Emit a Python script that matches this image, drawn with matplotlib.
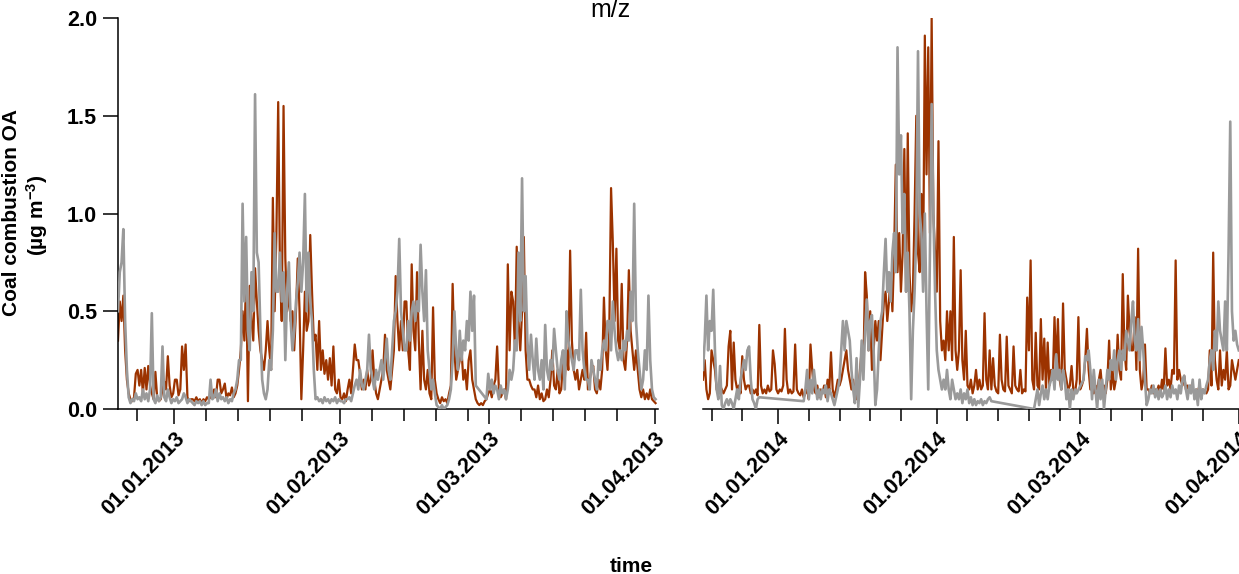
import numpy as np
import matplotlib
matplotlib.use("Agg")
import matplotlib.pyplot as plt
import matplotlib.dates as mdates

plt.rcParams['font.family'] = 'Liberation Sans'
plt.rcParams['font.weight'] = 'bold'
plt.rcParams['mathtext.fontset'] = 'custom'
plt.rcParams['mathtext.rm'] = 'Liberation Sans:bold'
plt.rcParams['mathtext.it'] = 'Liberation Sans:bold'
plt.rcParams['mathtext.bf'] = 'Liberation Sans:bold'

# 8-hourly series, winter 2012/13 and winter 2013/14
start_2013 = np.datetime64('2012-12-21T12:00')
start_2014 = np.datetime64('2013-12-17T08:00')
step = np.timedelta64(8, 'h')

brown_2013 = [
    0.35, 0.55, 0.45, 0.58, 0.30, 0.15, 0.08, 0.05, 0.04, 0.06, 0.18, 0.20,
    0.12, 0.20, 0.08, 0.21, 0.10, 0.22, 0.12, 0.08, 0.05, 0.19, 0.06, 0.04,
    0.05, 0.10, 0.14, 0.10, 0.27, 0.12, 0.06, 0.08, 0.15, 0.15, 0.07, 0.10,
    0.32, 0.20, 0.33, 0.06, 0.04, 0.05, 0.05, 0.04, 0.06, 0.04, 0.05, 0.03,
    0.05, 0.04, 0.06, 0.05, 0.06, 0.07, 0.10, 0.06, 0.15, 0.15, 0.08, 0.10,
    0.13, 0.05, 0.08, 0.07, 0.11, 0.06, 0.08, 0.12, 0.20, 0.30, 0.50, 0.35,
    0.68, 0.04, 0.63, 0.45, 0.35, 0.72, 0.55, 0.40, 0.30, 0.25, 0.20, 0.30,
    0.45, 0.30, 0.20, 1.08, 0.50, 0.90, 1.57, 0.70, 0.45, 1.55, 0.77, 0.50,
    0.60, 0.45, 0.50, 0.30, 0.50, 0.77, 0.50, 0.05, 0.30, 0.60, 0.40, 0.45,
    0.89, 0.60, 0.35, 0.38, 0.20, 0.45, 0.20, 0.30, 0.18, 0.25, 0.15, 0.26,
    0.12, 0.32, 0.10, 0.08, 0.15, 0.06, 0.05, 0.08, 0.04, 0.10, 0.15, 0.08,
    0.20, 0.33, 0.25, 0.25, 0.18, 0.10, 0.15, 0.10, 0.20, 0.12, 0.15, 0.30,
    0.15, 0.08, 0.05, 0.10, 0.15, 0.20, 0.38, 0.20, 0.15, 0.10, 0.20, 0.30,
    0.68, 0.45, 0.30, 0.45, 0.30, 0.55, 0.55, 0.30, 0.20, 0.74, 0.40, 0.30,
    0.70, 0.35, 0.10, 0.40, 0.15, 0.10, 0.20, 0.08, 0.05, 0.52, 0.15, 0.08,
    0.05, 0.03, 0.06, 0.04, 0.05, 0.03, 0.08, 0.12, 0.64, 0.30, 0.15, 0.20,
    0.25, 0.30, 0.15, 0.20, 0.10, 0.25, 0.30, 0.15, 0.10, 0.05, 0.03, 0.02,
    0.03, 0.02, 0.04, 0.05, 0.08, 0.10, 0.06, 0.12, 0.15, 0.32, 0.10, 0.06,
    0.08, 0.10, 0.05, 0.74, 0.30, 0.60, 0.55, 0.30, 0.83, 0.45, 0.30, 0.50,
    0.88, 0.30, 0.15, 0.15, 0.12, 0.10, 0.10, 0.06, 0.12, 0.05, 0.08, 0.04,
    0.05, 0.10, 0.06, 0.15, 0.30, 0.12, 0.10, 0.20, 0.08, 0.10, 0.25, 0.15,
    0.30, 0.20, 0.81, 0.35, 0.20, 0.15, 0.20, 0.10, 0.15, 0.20, 0.15, 0.39,
    0.10, 0.15, 0.20, 0.22, 0.10, 0.08, 0.15, 0.10, 0.20, 0.57, 0.30, 0.20,
    0.40, 1.13, 0.85, 0.45, 0.82, 0.35, 0.30, 0.64, 0.25, 0.20, 0.35, 0.71,
    0.40, 0.30, 0.20, 0.30, 0.20, 0.10, 0.06, 0.10, 0.05, 0.08, 0.05, 0.10,
    0.05, 0.04, 0.03,
]

gray_2013 = [
    0.50, 0.70, 0.75, 0.92, 0.45, 0.20, 0.06, 0.03, 0.05, 0.04, 0.08, 0.05,
    0.06, 0.04, 0.10, 0.05, 0.08, 0.04, 0.10, 0.49, 0.05, 0.03, 0.07, 0.04,
    0.06, 0.32, 0.06, 0.04, 0.10, 0.06, 0.03, 0.05, 0.04, 0.06, 0.03, 0.04,
    0.05, 0.08, 0.06, 0.03, 0.05, 0.04, 0.03, 0.02, 0.04, 0.03, 0.04, 0.02,
    0.04, 0.02, 0.03, 0.03, 0.15, 0.05, 0.06, 0.10, 0.04, 0.08, 0.05, 0.06,
    0.04, 0.06, 0.03, 0.05, 0.04, 0.08, 0.10, 0.15, 0.25, 0.25, 1.05, 0.55,
    0.88, 0.40, 0.30, 0.70, 0.50, 1.61, 0.80, 0.75, 0.40, 0.15, 0.08, 0.05,
    0.10, 0.25, 0.20, 0.40, 0.90, 0.60, 0.60, 0.80, 0.55, 0.70, 0.25, 0.60,
    0.75, 0.45, 0.30, 0.40, 0.55, 0.65, 0.80, 0.60, 0.75, 1.10, 0.50, 0.80,
    0.55, 0.45, 0.20, 0.05, 0.06, 0.04, 0.05, 0.03, 0.06, 0.04, 0.05, 0.03,
    0.05, 0.04, 0.06, 0.03, 0.05, 0.04, 0.04, 0.03, 0.05, 0.05, 0.06, 0.04,
    0.08, 0.12, 0.15, 0.10, 0.20, 0.12, 0.10, 0.15, 0.20, 0.38, 0.20, 0.15,
    0.10, 0.20, 0.15, 0.20, 0.25, 0.15, 0.25, 0.36, 0.20, 0.15, 0.30, 0.45,
    0.50, 0.60, 0.87, 0.50, 0.40, 0.30, 0.30, 0.45, 0.35, 0.50, 0.55, 0.45,
    0.55, 0.50, 0.84, 0.60, 0.45, 0.71, 0.30, 0.20, 0.10, 0.15, 0.08, 0.02,
    0.01, 0.00, 0.02, 0.00, 0.01, 0.02, 0.05, 0.10, 0.25, 0.50, 0.30, 0.20,
    0.40, 0.25, 0.35, 0.30, 0.45, 0.35, 0.60, 0.40, 0.58, 0.12, None, None,
    None, None, None, 0.05, 0.18, 0.10, 0.15, 0.08, 0.12, 0.10, 0.05, 0.12,
    0.08, 0.10, 0.05, 0.10, 0.20, 0.15, 0.20, 0.35, 0.30, 0.80, 0.45, 1.18,
    0.50, 0.68, 0.35, 0.20, 0.38, 0.25, 0.15, 0.36, 0.20, 0.15, 0.25, 0.10,
    0.43, 0.20, 0.15, 0.25, 0.20, 0.41, 0.30, 0.20, 0.15, 0.25, 0.30, 0.10,
    0.50, 0.35, 0.30, 0.25, 0.20, 0.30, 0.30, 0.25, 0.61, 0.30, 0.20, 0.15,
    0.15, 0.10, 0.25, 0.20, 0.15, 0.10, 0.25, 0.20, 0.30, 0.35, 0.30, 0.45,
    0.45, 0.30, 0.55, 0.40, 0.30, 0.25, 0.30, 0.25, 0.35, 0.30, 0.40, 0.35,
    0.60, 0.45, 1.05, 0.45, 0.30, 0.20, 0.10, 0.15, 0.30, 0.20, 0.58, 0.25,
    0.10, 0.06, 0.05,
]

brown_2014 = [
    0.15, 0.25, 0.10, 0.05, 0.08, 0.30, 0.25, 0.20, 0.10, 0.08, 0.12, 0.10,
    0.08, 0.10, 0.12, 0.32, 0.40, 0.10, 0.34, 0.15, 0.10, 0.12, 0.08, 0.27,
    0.15, 0.10, 0.12, 0.12, 0.08, 0.10, 0.08, 0.10, 0.07, 0.43, 0.12, 0.08,
    0.10, 0.08, 0.12, 0.09, 0.10, 0.30, 0.23, 0.10, 0.08, 0.10, 0.09, 0.12,
    0.41, 0.15, 0.08, 0.10, 0.08, 0.09, 0.33, 0.10, 0.08, 0.07, 0.10, 0.06,
    0.08, 0.10, 0.05, 0.33, 0.20, 0.10, 0.08, 0.12, 0.06, 0.10, 0.08, 0.12,
    0.06, 0.15, 0.10, 0.29, 0.10, 0.06, 0.10, 0.15, 0.12, 0.15, 0.20, 0.25,
    0.30, 0.20, 0.15, 0.10, 0.15, 0.08, 0.05, 0.10, 0.20, 0.30, 0.20, 0.70,
    0.58, 0.30, 0.50, 0.20, 0.30, 0.45, 0.35, 0.45, 0.25, 0.40, 0.55, 0.60,
    0.45, 0.55, 0.69, 0.50, 0.80, 1.25, 0.70, 0.90, 0.60, 0.80, 1.33, 0.60,
    1.41, 0.70, 0.50, 0.60, 1.00, 1.50, 0.80, 0.70, 1.10, 0.70, 1.91, 1.20,
    1.85, 0.90, 2.00, 1.00, 0.80, 0.60, 1.37, 0.45, 0.30, 0.35, 0.25, 0.50,
    0.30, 0.50, 0.25, 0.88, 0.30, 0.20, 0.30, 0.71, 0.25, 0.15, 0.40, 0.12,
    0.10, 0.15, 0.08, 0.12, 0.20, 0.10, 0.15, 0.10, 0.12, 0.49, 0.15, 0.10,
    0.30, 0.10, 0.26, 0.12, 0.09, 0.08, 0.38, 0.15, 0.10, 0.09, 0.37, 0.12,
    0.10, 0.08, 0.32, 0.12, 0.10, 0.09, 0.20, 0.08, 0.10, 0.09, 0.57, 0.30,
    0.76, 0.15, 0.10, 0.39, 0.12, 0.10, 0.46, 0.15, 0.36, 0.10, 0.34, 0.12,
    0.20, 0.15, 0.47, 0.20, 0.46, 0.15, 0.10, 0.54, 0.20, 0.15, 0.10, 0.12,
    0.22, 0.10, 0.08, 0.15, 0.47, 0.10, 0.12, 0.15, 0.25, 0.41, 0.20, 0.10,
    0.15, 0.08, 0.12, 0.10, 0.15, 0.20, 0.10, 0.12, 0.08, 0.15, 0.35, 0.10,
    0.20, 0.10, 0.15, 0.38, 0.20, 0.15, 0.69, 0.30, 0.20, 0.58, 0.40, 0.30,
    0.30, 0.47, 0.20, 0.82, 0.20, 0.10, 0.15, 0.33, 0.10, 0.10, 0.08, 0.12,
    0.08, 0.10, 0.09, 0.12, 0.08, 0.15, 0.10, 0.31, 0.12, 0.15, 0.10, 0.20,
    0.18, 0.76, 0.15, 0.20, 0.15, 0.12, 0.17, 0.10, 0.12, 0.09, 0.12, 0.10,
    0.08, 0.10, 0.09, 0.12, 0.08, 0.10, 0.09, 0.08, 0.10, 0.30, 0.12, 0.80,
    0.25, 0.15, 0.10, 0.30, 0.12, 0.20, 0.15, 0.30, 0.10, 0.12, 0.25, 0.20,
    0.15, 0.20, 0.25,
]

gray_2014 = [
    0.20, 0.35, 0.58, 0.30, 0.45, 0.40, 0.61, 0.30, 0.10, 0.05, 0.22, 0.02,
    0.00, 0.03, 0.05, 0.02, 0.05, 0.03, 0.00, 0.05, 0.10, 0.05, 0.15, 0.20,
    0.25, 0.20, 0.30, 0.32, 0.15, 0.05, 0.03, 0.00, 0.05, 0.06, None, None,
    None, None, None, None, None, None, None, None, None, None, None, None,
    None, None, None, None, None, None, None, None, None, None, None, 0.04,
    0.10, 0.20, 0.05, 0.15, 0.08, 0.20, 0.12, 0.05, 0.10, 0.05, 0.10, 0.08,
    0.12, 0.04, 0.10, 0.08, 0.05, 0.02, 0.06, 0.10, 0.15, 0.30, 0.45, 0.30,
    0.45, 0.40, 0.35, 0.20, 0.10, 0.03, 0.26, 0.01, 0.15, 0.35, 0.15, 0.40,
    0.56, 0.30, 0.45, 0.48, 0.30, 0.02, 0.10, 0.30, 0.45, 0.50, 0.70, 0.87,
    0.60, 0.70, 0.55, 0.80, 0.90, 0.70, 1.85, 1.20, 1.40, 0.90, 1.10, 0.60,
    0.80, 0.50, 0.05, 0.40, 0.60, 0.90, 1.83, 1.00, 0.90, 0.60, 1.00, 0.50,
    0.10, 0.80, 1.56, 1.00, 0.60, 0.30, 0.20, 0.15, 0.10, 0.15, 0.10, 0.20,
    0.10, 0.05, 0.15, 0.10, 0.05, 0.08, 0.05, 0.10, 0.03, 0.08, 0.05, 0.10,
    0.03, 0.06, 0.02, 0.05, 0.02, 0.04, 0.03, 0.05, 0.02, 0.04, 0.03, 0.05,
    0.06, 0.04, None, None, None, None, None, None, None, None, None, None,
    None, None, None, None, None, None, None, None, None, None, None, None,
    None, None, 0.00, 0.05, 0.10, 0.02, 0.08, 0.12, 0.05, 0.10, 0.05, 0.12,
    0.15, 0.20, 0.10, 0.28, 0.15, 0.20, 0.10, 0.20, 0.15, 0.05, 0.10, 0.00,
    0.10, 0.05, 0.10, 0.08, None, None, None, 0.15, 0.27, 0.25, 0.30, 0.20,
    0.05, 0.20, 0.10, 0.00, 0.15, 0.05, 0.15, 0.00, 0.10, 0.20, 0.15, 0.25,
    0.20, 0.30, 0.15, 0.25, 0.30, 0.20, 0.30, 0.25, 0.40, 0.35, 0.30, 0.45,
    0.55, 0.35, 0.30, 0.46, 0.25, 0.42, 0.30, 0.15, 0.02, 0.05, 0.10, 0.08,
    0.12, 0.06, 0.10, 0.05, 0.10, 0.06, 0.08, 0.12, 0.05, 0.10, 0.06, 0.12,
    0.08, 0.10, 0.05, 0.12, 0.08, 0.15, 0.17, 0.10, 0.05, 0.12, 0.08, 0.15,
    0.05, 0.10, 0.02, 0.15, 0.05, 0.10, 0.08, 0.12, 0.15, 0.25, 0.30, 0.20,
    0.40, 0.30, 0.55, 0.40, 0.35, 0.30, 0.55, 0.30, 0.80, 1.47, 0.50, 0.35,
    0.40, 0.33, 0.30,
]

month_ticks_2013 = ['2013-01-01', '2013-02-01', '2013-03-01', '2013-04-01']
month_ticks_2014 = ['2014-01-01', '2014-02-01', '2014-03-01', '2014-04-01']
y_ticks = [0.0, 0.5, 1.0, 1.5, 2.0]

BROWN = '#9c3300'
GRAY = '#9a9a9a'

W, H = 1239, 574
fig = plt.figure(figsize=(W / 100, H / 100), dpi=100)


def px_axes(x0, x1, y0, y1):
    return fig.add_axes([x0 / W, 1 - y1 / H, (x1 - x0) / W, (y1 - y0) / H])


ax1 = px_axes(118, 658, 18, 409)
ax2 = px_axes(703, 1239, 18, 409)

panels = [
    (ax1, start_2013, brown_2013, gray_2013, month_ticks_2013,
     ('2012-12-21T12:00', '2013-04-01T15:00')),
    (ax2, start_2014, brown_2014, gray_2014, month_ticks_2014,
     ('2013-12-17T08:00', '2014-04-01T01:00')),
]

for ax, start, brown, gray, months, lims in panels:
    b = np.asarray(brown, dtype=float)
    g = np.array([np.nan if v is None else v for v in gray], dtype=float)
    tb = start + np.arange(len(b)) * step
    tg = start + np.arange(len(g)) * step
    ok = ~np.isnan(g)
    ax.plot(tb, b, color=BROWN, lw=1.6, zorder=2)
    ax.plot(tg[ok], g[ok], color=GRAY, lw=1.9, zorder=3)

    ax.set_xlim(np.datetime64(lims[0]), np.datetime64(lims[1]))
    ax.set_ylim(0, 2.0)
    ax.set_xticks([np.datetime64(m) for m in months])
    ax.xaxis.set_major_formatter(mdates.DateFormatter('%d.%m.%Y'))
    ax.xaxis.set_minor_locator(mdates.DayLocator(bymonthday=[7, 13, 19, 25]))
    ax.tick_params(axis='x', which='major', direction='out', length=11,
                   width=1.1, labelsize=15.5, pad=3)
    ax.tick_params(axis='x', which='minor', direction='out', length=8.5,
                   width=1.1)
    for lab in ax.get_xticklabels():
        lab.set_rotation(45)
        lab.set_ha('right')
        lab.set_va('top')
        lab.set_rotation_mode('anchor')
        lab.set_fontweight('bold')
    for side in ('top', 'right'):
        ax.spines[side].set_visible(False)
    ax.spines['bottom'].set_linewidth(1.1)
    ax.spines['left'].set_linewidth(1.1)
    ax.patch.set_visible(False)

ax1.set_yticks(y_ticks)
ax1.set_yticklabels([f'{v:.1f}' for v in y_ticks], fontweight='bold')
ax1.tick_params(axis='y', direction='out', length=11, width=1.1,
                labelsize=15.5, pad=4)
ax2.spines['left'].set_visible(False)
ax2.set_yticks([])

fig.text(610 / W, 1 - 17 / H, 'm/z', ha='center', va='baseline',
         fontsize=18, fontweight='normal')
fig.text(631 / W, 1 - 572 / H, 'time', ha='center', va='baseline',
         fontsize=15, fontweight='bold')
fig.text(12 / W, 1 - 213 / H, 'Coal combustion OA', rotation=90,
         ha='center', va='center', fontsize=15, fontweight='bold')
fig.text(37 / W, 1 - 215 / H, r'(µg m$^{-3}$)', rotation=90,
         ha='center', va='center', fontsize=15, fontweight='bold')

fig.savefig('out.png', dpi=100)
